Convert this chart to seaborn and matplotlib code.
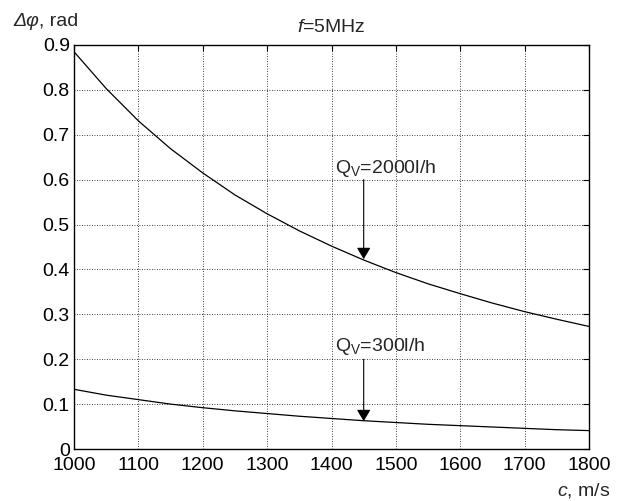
import matplotlib
matplotlib.use('Agg')
import pandas as pd
import matplotlib.pyplot as plt
import seaborn as sns

# values
speed = [1000, 1050, 1100, 1150, 1200, 1250, 1300, 1350, 1400,
         1450, 1500, 1550, 1600, 1650, 1700, 1750, 1800]
dphi_2000 = [0.885, 0.803, 0.731, 0.669, 0.615, 0.566, 0.524, 0.486, 0.452,
             0.421, 0.393, 0.368, 0.346, 0.325, 0.306, 0.289, 0.273]
dphi_300 = [0.133, 0.120, 0.110, 0.100, 0.092, 0.085, 0.079, 0.073, 0.068,
            0.063, 0.059, 0.055, 0.052, 0.049, 0.046, 0.043, 0.041]
x_ticks = [1000, 1100, 1200, 1300, 1400, 1500, 1600, 1700, 1800]
y_ticks = [0, 0.1, 0.2, 0.3, 0.4, 0.5, 0.6, 0.7, 0.8, 0.9]
y_tick_labels = ['0', '0.1', '0.2', '0.3', '0.4', '0.5', '0.6', '0.7', '0.8', '0.9']

df = pd.DataFrame({'c': speed + speed,
                   'dphi': dphi_2000 + dphi_300,
                   'flow': ['2000'] * len(speed) + ['300'] * len(speed)})

sns.set_style('white')
plt.rcParams['font.family'] = ['Liberation Sans', 'DejaVu Sans']
plt.rcParams['mathtext.fontset'] = 'custom'
plt.rcParams['mathtext.rm'] = 'Liberation Sans'
plt.rcParams['mathtext.it'] = 'Liberation Sans:italic'
plt.rcParams['font.size'] = 14

fig = plt.figure(figsize=(6.21, 5.01), dpi=100)
ax = fig.add_axes([74 / 621, 1 - 449 / 501, 515 / 621, 404 / 501])

sns.lineplot(data=df, x='c', y='dphi', units='flow', estimator=None,
             color='black', lw=0.9, ax=ax, legend=False)

ax.set_xlim(1000, 1800)
ax.set_ylim(0, 0.9)
ax.set_xticks(x_ticks)
ax.set_yticks(y_ticks)
ax.set_yticklabels(y_tick_labels)
ax.tick_params(direction='in', length=4, width=0.8, colors='black',
               labelsize=14, top=True, right=True)
ax.tick_params(axis='x', pad=6)
ax.tick_params(axis='y', pad=3)
ax.grid(True, color='black', linestyle=(0, (1, 2)), lw=0.6)
for s in ax.spines.values():
    s.set_color('black')
    s.set_linewidth(1.0)
ax.set_xlabel('')
ax.set_ylabel('')

ax.set_title(r'$\it{f}$=5MHz', fontsize=14, pad=9)

# y label: italic symbol followed by upright unit
sym = fig.text(13 / 621, 1 - 26 / 501, 'Δφ', fontsize=14, style='italic',
               va='baseline')
fig.canvas.draw()
bb = sym.get_window_extent().transformed(fig.transFigure.inverted())
fig.text(bb.x1, 1 - 26 / 501, ', rad', fontsize=14, va='baseline')

fig.text(610 / 621, 1 - 496 / 501, r'$\it{c}$, m/s', fontsize=14,
         ha='right', va='baseline')

arrow = dict(arrowstyle='-|>,head_length=0.5,head_width=0.3',
             mutation_scale=14, color='black', lw=0.8, shrinkA=0, shrinkB=0)
ax.annotate('', xy=(1450, 0.423), xytext=(1450, 0.60), arrowprops=arrow)
ax.annotate('', xy=(1450, 0.062), xytext=(1450, 0.20), arrowprops=arrow)
ax.text(1405, 0.615, r'$\mathrm{Q_V}$=2000l/h', fontsize=14, va='baseline')
ax.text(1405, 0.218, r'$\mathrm{Q_V}$=300l/h', fontsize=14, va='baseline')

fig.savefig('out.png', dpi=100)
